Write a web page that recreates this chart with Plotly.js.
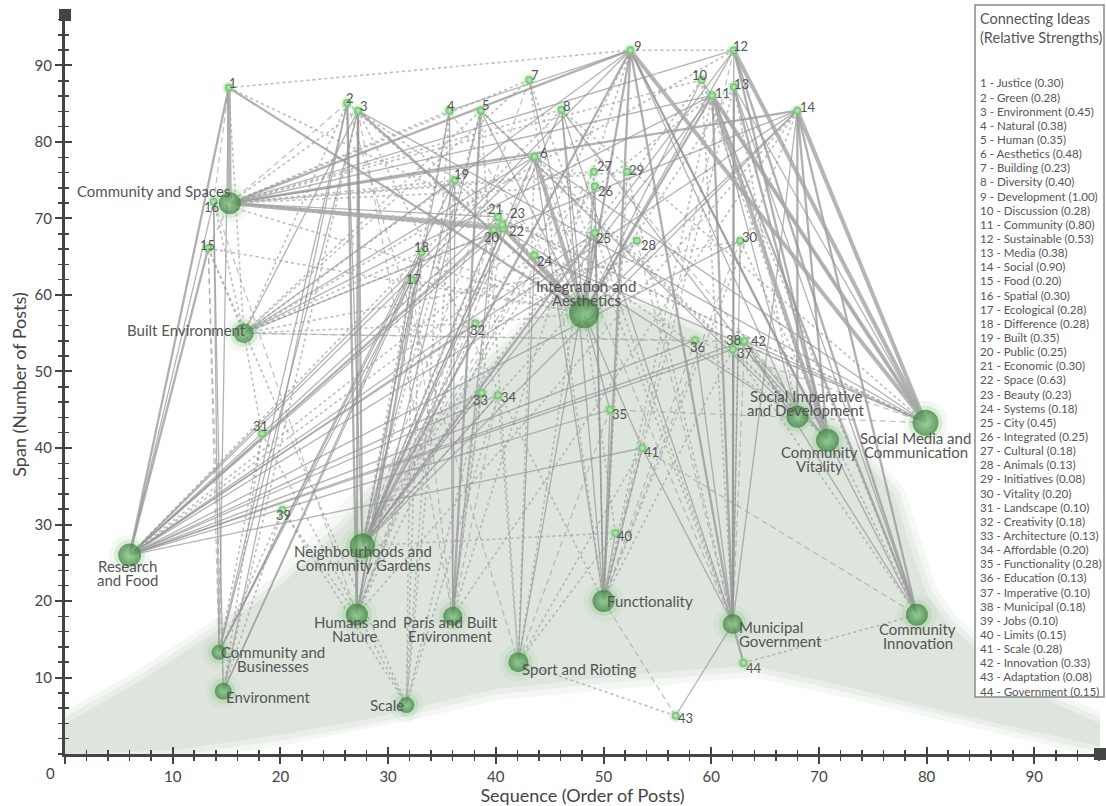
<!DOCTYPE html>
<html><head><meta charset="utf-8">
<script src="https://cdn.plot.ly/plotly-3.0.1.min.js"></script>
<style>html,body{margin:0;padding:0;background:#fff}</style>
</head><body><div id="chart" style="width:1106px;height:806px"></div>
<script>
// ---------- DATA ----------
const ideaIds = [1,2,3,4,5,6,7,8,9,10,11,12,13,14,15,16,17,18,19,20,21,22,23,24,25,26,27,28,29,30,31,32,33,34,35,36,37,38,39,40,41,42,43,44];
const ideaNames = ['Justice','Green','Environment','Natural','Human','Aesthetics','Building','Diversity','Development','Discussion','Community','Sustainable','Media','Social','Food','Spatial','Ecological','Difference','Built','Public','Economic','Space','Beauty','Systems','City','Integrated','Cultural','Animals','Initiatives','Vitality','Landscape','Creativity','Architecture','Affordable','Functionality','Education','Imperative','Municipal','Jobs','Limits','Scale','Innovation','Adaptation','Government'];
const ideaStrengths = [0.30,0.28,0.45,0.38,0.35,0.48,0.23,0.40,1.00,0.28,0.80,0.53,0.38,0.90,0.20,0.30,0.28,0.28,0.35,0.25,0.30,0.63,0.23,0.18,0.45,0.25,0.18,0.13,0.08,0.20,0.10,0.18,0.13,0.20,0.28,0.13,0.10,0.18,0.10,0.15,0.28,0.33,0.08,0.15];
// sequence (x) and span (y) of numbered ideas
const ideaX = [15.2,26.2,27.2,35.7,38.6,43.6,43.1,46.1,52.5,59.1,60.1,62.1,62.1,68.0,13.3,13.8,32.2,33.1,36.2,39.8,40.2,40.7,40.6,43.6,49.2,49.2,49.1,53.1,52.2,62.7,18.3,38.1,38.7,40.2,50.6,58.5,62.0,62.5,20.2,51.1,53.6,63.1,56.7,63.0];
const ideaY = [87.1,85.1,84.1,84.1,84.1,78.1,88.1,84.2,92.0,88.1,86.1,92.0,87.2,84.1,66.1,72.2,62.0,65.6,75.0,68.5,70.2,68.7,69.2,65.2,68.1,74.2,76.1,67.1,76.1,67.1,41.9,56.3,47.2,46.9,45.0,54.1,52.9,53.9,31.9,28.9,40.0,54.0,5.0,11.9];

// themes (large nodes)
const themeKeys = ['CS','BE','RF','NG','HN','PB','CB','EN','SC','SR','FU','IA','MG','CI','SI','CV','SM'];
const themeLabels = ['Community and Spaces','Built Environment','Research<br>and Food','Neighbourhoods and<br>Community Gardens','Humans and<br>Nature','Paris and Built<br>Environment','Community and<br>Businesses','Environment','Scale','Sport and Rioting','Functionality','Integration and<br>Aesthetics','Municipal<br>Government','Community<br>Innovation','Social Imperative<br>and Development','Community<br>Vitality','Social Media and<br>Communication'];
const themeX = [15.3,16.6,6.0,27.6,27.1,36.0,14.3,14.7,31.7,42.1,50.0,48.2,62.0,79.1,68.0,70.8,79.9];
const themeY = [72.0,55.0,26.0,27.2,18.2,18.0,13.3,8.2,6.4,12.0,20.0,57.6,17.0,18.2,44.1,41.0,43.3];

// connections: [idea, theme or idea, line type]
// T thick, M medium, S thin, D dashed, O dotted
const edges = [
 [1,'CS','T'],[1,'RF','M'],[1,'IA','M'],[1,16,'D'],[1,'BE','O'],[1,'CB','S'],[1,'SM','O'],[1,9,'O'],
 [2,'NG','S'],[2,'HN','M'],[2,'CB','S'],[2,'EN','S'],[2,'CS','D'],[2,'BE','O'],[2,'IA','O'],[2,'SR','D'],
 [3,'IA','M'],[3,'NG','M'],[3,'HN','M'],[3,'CB','S'],[3,'BE','S'],[3,'SM','S'],[3,'SI','O'],[3,'CS','O'],[3,'EN','O'],[3,'PB','D'],[3,'FU','O'],
 [4,'HN','S'],[4,'PB','S'],[4,'NG','O'],[4,'SC','O'],[4,'CS','O'],[4,9,'S'],[4,'IA','D'],
 [5,'HN','S'],[5,'PB','M'],[5,'IA','S'],[5,'NG','O'],[5,'SI','S'],[5,'CV','O'],[5,'BE','O'],[5,'SR','O'],
 [6,'IA','T'],[6,'NG','S'],[6,'FU','S'],[6,'CS','S'],[6,'BE','S'],[6,'RF','S'],[6,'SR','O'],[6,'CV','O'],[6,'SM','S'],[6,'MG','D'],[6,'HN','D'],
 [7,'IA','S'],[7,'FU','O'],[7,'MG','O'],[7,'BE','O'],[7,'NG','D'],[7,'CS','O'],
 [8,'FU','S'],[8,'MG','S'],[8,'IA','S'],[8,'NG','S'],[8,'SI','S'],[8,'SM','O'],[8,'CS','O'],[8,'RF','O'],[8,'CV','D'],
 [9,'CS','M'],[9,'SM','T'],[9,'CV','M'],[9,'MG','M'],[9,'FU','M'],[9,'NG','M'],[9,'IA','M'],[9,'CI','S'],[9,'SI','S'],[9,'BE','S'],[9,'RF','S'],[9,'HN','O'],[9,'PB','O'],[9,12,'O'],
 [10,'IA','S'],[10,'CS','O'],[10,'SM','S'],[10,'CV','O'],[10,'CI','O'],[10,'MG','O'],[10,'NG','O'],
 [11,'SM','T'],[11,'CV','T'],[11,'MG','M'],[11,'CS','S'],[11,'NG','S'],[11,'IA','M'],[11,'CI','M'],[11,'SI','S'],[11,'BE','S'],[11,'FU','O'],[11,'RF','O'],
 [12,'SM','T'],[12,'CV','M'],[12,'MG','S'],[12,'IA','S'],[12,'CI','M'],[12,'CS','S'],[12,'NG','S'],[12,'BE','O'],[12,'FU','D'],
 [13,'MG','M'],[13,'CV','M'],[13,'SM','S'],[13,'CI','S'],[13,'IA','O'],[13,'SI','O'],[13,'FU','O'],
 [14,'CS','M'],[14,'BE','S'],[14,'SM','T'],[14,'SI','M'],[14,'CV','M'],[14,'CI','M'],[14,'MG','S'],[14,'NG','S'],[14,'IA','S'],[14,'RF','S'],[14,'FU','O'],[14,'HN','O'],[14,'PB','O'],
 [15,'RF','M'],[15,'CS','D'],[15,'BE','O'],[15,'CB','D'],[15,'EN','D'],[15,'IA','O'],[15,'SC','O'],
 [16,'RF','S'],[16,'CB','S'],[16,'EN','S'],[16,'BE','O'],[16,'IA','O'],[16,'HN','D'],
 [17,'EN','S'],[17,'CB','S'],[17,'HN','S'],[17,'NG','O'],[17,'IA','O'],[17,'SC','O'],[17,'PB','D'],
 [18,'CB','S'],[18,'EN','S'],[18,'HN','S'],[18,'NG','S'],[18,'IA','O'],[18,'BE','O'],[18,'SC','O'],
 [19,'PB','S'],[19,'CB','S'],[19,'NG','S'],[19,'BE','O'],[19,'IA','O'],[19,'CS','O'],[19,'SC','O'],
 [20,'RF','S'],[20,'PB','S'],[20,'IA','S'],[20,'CS','O'],[20,'NG','O'],[20,'HN','D'],
 [21,'RF','S'],[21,'CS','S'],[21,'NG','S'],[21,'IA','O'],[21,'SM','O'],[21,'PB','O'],
 [22,'CS','T'],[22,'IA','T'],[22,'RF','S'],[22,'NG','S'],[22,'SI','S'],[22,'BE','O'],
 [23,'RF','S'],[23,'CS','O'],[23,'IA','O'],[23,'HN','O'],[23,'PB','D'],
 [24,'IA','S'],[24,'SR','S'],[24,'SM','S'],[24,'RF','O'],[24,'NG','D'],
 [25,'IA','S'],[25,'FU','S'],[25,'NG','S'],[25,'SR','S'],[25,'RF','S'],[25,'MG','O'],[25,'CS','O'],
 [26,'IA','S'],[26,'FU','S'],[26,'NG','O'],[26,'CS','O'],[26,'SR','O'],
 [27,'FU','O'],[27,'IA','O'],[27,'CS','O'],[27,'NG','D'],
 [28,'IA','O'],[28,'NG','O'],[28,'RF','S'],[28,'MG','D'],
 [29,'CS','O'],[29,'FU','O'],[29,'MG','O'],
 [30,'MG','S'],[30,'CI','O'],[30,'RF','S'],[30,'BE','O'],[30,'FU','D'],
 [31,'EN','O'],[31,'BE','O'],[31,'CB','O'],[31,'SC','O'],
 [32,'RF','S'],[32,'NG','S'],[32,'BE','O'],[32,'IA','O'],[32,'HN','O'],
 [33,'RF','S'],[33,'SC','O'],[33,'NG','O'],[33,'PB','O'],
 [34,'RF','S'],[34,'SC','O'],[34,'SR','O'],[34,'NG','S'],[34,'PB','D'],
 [35,'FU','S'],[35,'IA','S'],[35,'RF','S'],[35,'SR','D'],[35,'SM','D'],
 [36,'MG','S'],[36,'RF','S'],[36,'SM','D'],[36,'BE','D'],[36,'FU','D'],
 [37,'MG','S'],[37,'RF','S'],[37,'CI','O'],[37,'FU','O'],
 [38,'BE','D'],[38,'MG','O'],[38,'CV','S'],[38,'SM','D'],
 [39,'EN','O'],[39,'CB','O'],[39,'SC','O'],[39,'HN','O'],
 [40,'FU','S'],[40,'IA','O'],[40,'NG','O'],[40,'SR','O'],
 [41,'IA','S'],[41,'FU','S'],[41,'RF','S'],[41,'SR','O'],[41,'MG','S'],[41,'CI','D'],
 [42,'CI','S'],[42,'SM','S'],[42,'CV','S'],[42,'RF','S'],[42,'SI','O'],[42,'MG','D'],
 [43,'MG','S'],[43,'FU','D'],[43,'SR','O'],
 [44,'MG','M'],[44,'CI','O']
];

// axis ticks
const xTickVals = [0,10,20,30,40,50,60,70,80,90];
const xTickText = ['','10','20','30','40','50','60','70','80','90'];
const yTickVals = [10,20,30,40,50,60,70,80,90];
const xMax = 96.1, yMax = 96.6;

// background "mountain" outline
const shadeX = [0,10,20,28,34,40,50,58,64,72,82,90,96.1,96.1,92,86,82,80,78.5,77,72.6,66.4,60,54,48,44,38,32,26,20,13.5,7,0];
const shadeY = [0,0.5,2.5,4.5,6.5,8.5,10,11,11.5,9,5.5,3,1,4,6.5,12,17,21,27,34,41,50,54.5,58,60,57,49,40,30,22,15.5,9.5,4];

// ---------- STYLES ----------
const themeSize = {CS:22,BE:20,RF:23,NG:25,HN:22,PB:19,CB:15,EN:17,SC:16,SR:20,FU:22,IA:30,MG:20,CI:22,SI:22,CV:23,SM:26};
// [xanchor, xshift, yshift of first line]
const themeLabelStyle = {
 CS:['right',2,12], BE:['right',4,3], RF:['center',-2,-11], NG:['center',1,-5], HN:['center',-2,-7],
 PB:['center',-2,-6], CB:['center',54,0], EN:['center',45,-6], SC:['center',-19,0], SR:['center',61,-7],
 FU:['center',46,0], IA:['center',2,27], MG:['left',4,-3], CI:['center',1,-14], SI:['center',9,21],
 CV:['center',-8,-12], SM:['center',-10,-15]
};
const themeLineGap = 14;
// [xshift, yshift] of numbered labels (label centre)
const ideaLabelShift = [[4,5],[3,5],[6,5],[2,5],[5,6],[9,4],[6,5],[5,4],[8,4],[-2,5],[10,2],[7,4],[8,3],[11,4],[-1,3],[-2,-5],[2,1],[0,5],[7,6],[-2,-7],[-2,8],[13,-3],[15,12],[10,-6],[9,-5],[11,-5],[11,6],[12,-4],[9,2],[10,4],[-2,7],[2,-7],[-1,-7],[11,-2],[10,-4],[2,-7],[12,-4],[-5,2],[1,-5],[10,-3],[9,-4],[14,0],[10,-2],[10,-5]];
const edgeStyle = {
 O:{width:1.6,color:'rgba(165,165,165,0.72)',dash:'dot'},
 D:{width:1.2,color:'rgba(165,165,165,0.72)',dash:'6px,4px'},
 S:{width:1.3,color:'rgba(150,150,150,0.72)',dash:'solid'},
 M:{width:2.3,color:'rgba(150,150,150,0.75)',dash:'solid'},
 T:{width:4,color:'rgba(165,165,165,0.82)',dash:'solid'}
};
const FONT = 'Lato, "Open Sans", sans-serif';
const shadeCol = 'rgb(221,229,221)';

// ---------- BUILD ----------
function pos(id){
  if (typeof id === 'number'){ const i = ideaIds.indexOf(id); return [ideaX[i], ideaY[i]]; }
  const j = themeKeys.indexOf(id); return [themeX[j], themeY[j]];
}
const traces = [];
// background shading with soft edge
traces.push({type:'scatter',mode:'lines',x:shadeX,y:shadeY,line:{width:22,color:'rgba(221,229,221,0.3)'},hoverinfo:'skip'});
traces.push({type:'scatter',mode:'lines',x:shadeX,y:shadeY,line:{width:11,color:'rgba(221,229,221,0.5)'},hoverinfo:'skip'});
traces.push({type:'scatter',mode:'lines',x:shadeX,y:shadeY,fill:'toself',fillcolor:shadeCol,line:{width:0,color:shadeCol},hoverinfo:'skip'});

['O','D','S','M','T'].forEach(st=>{
  const xs=[], ys=[];
  edges.forEach(e=>{ if(e[2]!==st) return; const a=pos(e[0]), b=pos(e[1]); xs.push(a[0],b[0],null); ys.push(a[1],b[1],null); });
  const s = edgeStyle[st];
  traces.push({type:'scatter',mode:'lines',x:xs,y:ys,line:{width:s.width,color:s.color,dash:s.dash},hoverinfo:'skip',connectgaps:false});
});

// glows
const tSizes = themeKeys.map(k=>themeSize[k]);
traces.push({type:'scatter',mode:'markers',x:themeX,y:themeY,marker:{size:tSizes.map(s=>s+18),color:'rgba(150,200,150,0.18)',line:{width:0}},hoverinfo:'skip',cliponaxis:false});
traces.push({type:'scatter',mode:'markers',x:themeX,y:themeY,marker:{size:tSizes.map(s=>s+8),color:'rgba(120,185,120,0.28)',line:{width:0}},hoverinfo:'skip',cliponaxis:false});
traces.push({type:'scatter',mode:'markers',x:ideaX,y:ideaY,marker:{size:13,color:'rgba(150,215,150,0.3)',line:{width:0}},hoverinfo:'skip',cliponaxis:false});
// nodes
traces.push({type:'scatter',mode:'markers',x:themeX,y:themeY,marker:{size:tSizes,color:'#347a34',gradient:{type:'radial',color:'#86c986'},line:{width:0}},hoverinfo:'skip',cliponaxis:false});
traces.push({type:'scatter',mode:'markers',x:ideaX,y:ideaY,marker:{size:8,color:'#6fbd6f',gradient:{type:'radial',color:'#c2ecc2'},line:{width:0}},hoverinfo:'skip',cliponaxis:false});
// axis end squares
traces.push({type:'scatter',mode:'markers',x:[0,xMax],y:[yMax,0],marker:{symbol:'square',size:12,color:'#444'},hoverinfo:'skip',cliponaxis:false});
// overlay axes for crossing ticks
traces.push({type:'scatter',x:[],y:[],xaxis:'x2',yaxis:'y',hoverinfo:'skip'});
traces.push({type:'scatter',x:[],y:[],xaxis:'x',yaxis:'y2',hoverinfo:'skip'});

const annotations = [];
ideaIds.forEach((id,i)=>{
  annotations.push({x:ideaX[i],y:ideaY[i],xref:'x',yref:'y',text:String(id),showarrow:false,xanchor:'center',yanchor:'middle',
    xshift:ideaLabelShift[i][0],yshift:ideaLabelShift[i][1],font:{family:FONT,size:13,color:'#555'}});
});
themeKeys.forEach((k,i)=>{
  const st = themeLabelStyle[k];
  themeLabels[i].split('<br>').forEach((line,j)=>{
    annotations.push({x:themeX[i],y:themeY[i],xref:'x',yref:'y',text:line,showarrow:false,xanchor:st[0],yanchor:'middle',
      xshift:st[1],yshift:st[2]-j*themeLineGap,font:{family:FONT,size:15,color:'#555'}});
  });
});
// "0" origin label
annotations.push({x:0,y:0,xref:'x',yref:'y',text:'0',showarrow:false,xshift:-15,yshift:-19,font:{family:FONT,size:15,color:'#444'}});

// legend box
const W=1106,H=806,ml=65,mr=6,mt=15,mb=52;
const pw=W-ml-mr, ph=H-mt-mb;
const px2x = p=>(p-ml)/pw, py2y = p=>(H-mb-p)/ph;
['Connecting Ideas','(Relative Strengths)'].forEach((t,j)=>{
  annotations.push({xref:'paper',yref:'paper',x:px2x(978),y:py2y(18+j*19),text:t,showarrow:false,xanchor:'left',yanchor:'middle',font:{family:FONT,size:14.5,color:'#555'}});
});
ideaIds.forEach((id,i)=>{
  annotations.push({xref:'paper',yref:'paper',x:px2x(978),y:py2y(83+i*14.14),text:id+' - '+ideaNames[i]+' ('+ideaStrengths[i].toFixed(2)+')',
    showarrow:false,xanchor:'left',yanchor:'middle',font:{family:FONT,size:11.6,color:'#555'}});
});

const axisCommon = {showgrid:false,zeroline:false,fixedrange:true};
const layout = {
  width:W,height:H,margin:{l:ml,r:mr,t:mt,b:mb},paper_bgcolor:'#fff',plot_bgcolor:'rgba(0,0,0,0)',
  showlegend:false,hovermode:false,font:{family:FONT,color:'#444'},
  xaxis:Object.assign({},axisCommon,{range:[0,xMax],showline:true,linecolor:'#444',linewidth:3,tickmode:'array',tickvals:xTickVals,ticktext:xTickText,
    ticks:'outside',ticklen:7,tickwidth:2,tickcolor:'#444',minor:{tickmode:'linear',tick0:0,dtick:2,ticks:'outside',ticklen:4,tickwidth:1.5,tickcolor:'#444'},
    tickfont:{family:FONT,size:15,color:'#444'},automargin:false,
    title:{text:'Sequence (Order of Posts)',font:{family:FONT,size:18,color:'#444'},standoff:8}}),
  yaxis:Object.assign({},axisCommon,{range:[0,yMax],showline:true,linecolor:'#444',linewidth:3,tickmode:'array',tickvals:yTickVals,
    ticks:'outside',ticklen:7,tickwidth:2,tickcolor:'#444',minor:{tickmode:'linear',tick0:0,dtick:2,ticks:'outside',ticklen:4,tickwidth:1.5,tickcolor:'#444'},
    tickfont:{family:FONT,size:15,color:'#444'},automargin:false,
    title:{text:'Span (Number of Posts)',font:{family:FONT,size:18,color:'#444'},standoff:4}}),
  xaxis2:Object.assign({},axisCommon,{overlaying:'x',anchor:'y',side:'bottom',range:[0,xMax],showline:false,showticklabels:false,tickmode:'array',tickvals:xTickVals,
    ticks:'inside',ticklen:7,tickwidth:2,tickcolor:'#444',minor:{tickmode:'linear',tick0:0,dtick:2,ticks:'inside',ticklen:4,tickwidth:1.5,tickcolor:'#444'}}),
  yaxis2:Object.assign({},axisCommon,{overlaying:'y',anchor:'x',side:'left',range:[0,yMax],showline:false,showticklabels:false,tickmode:'array',tickvals:yTickVals,
    ticks:'inside',ticklen:7,tickwidth:2,tickcolor:'#444',minor:{tickmode:'linear',tick0:0,dtick:2,ticks:'inside',ticklen:4,tickwidth:1.5,tickcolor:'#444'}}),
  shapes:[{type:'rect',xref:'paper',yref:'paper',x0:px2x(975),x1:px2x(1104),y0:py2y(697),y1:py2y(5),fillcolor:'#fff',line:{color:'#8a8a8a',width:1.5},layer:'above'}],
  annotations:annotations
};
Plotly.newPlot('chart',traces,layout,{displayModeBar:false,staticPlot:true});
</script></body></html>
